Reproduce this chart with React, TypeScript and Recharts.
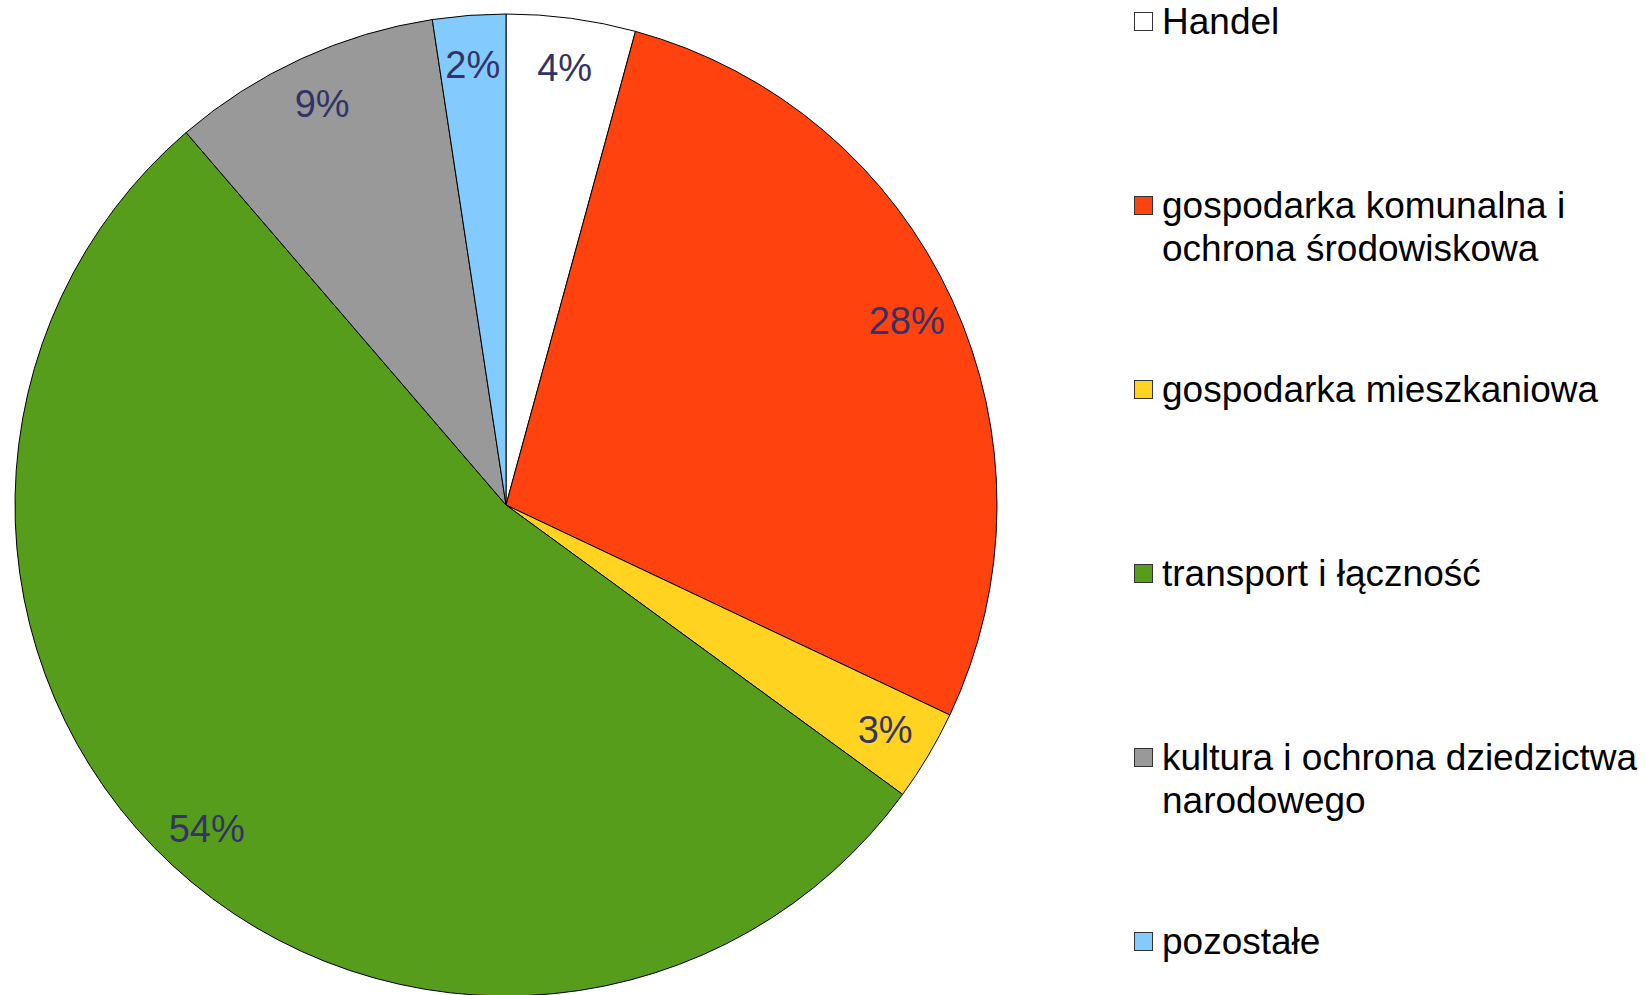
import { PieChart, Pie, Cell, Legend } from "recharts";

const categories = [
  "Handel",
  "gospodarka komunalna i ochrona środowiskowa",
  "gospodarka mieszkaniowa",
  "transport i łączność",
  "kultura i ochrona dziedzictwa narodowego",
  "pozostałe",
];
const shares = [4.25, 27.8, 3.0, 53.7, 8.9, 2.4];
const colors = ["#ffffff", "#ff420e", "#ffd320", "#579d1c", "#999999", "#83caff"];

const data = categories.map((name, i) => ({ name, value: shares[i] }));

const FONT = "'Liberation Sans', Arial, sans-serif";
const RADIAN = Math.PI / 180;

// ─── Percent labels inside slices ─────────────────────────────────────────

function renderLabel(props: any) {
  const { cx, cy, midAngle, outerRadius, percent } = props;
  const r = outerRadius - 50;
  const x = cx + r * Math.cos(-midAngle * RADIAN);
  const y = cy + r * Math.sin(-midAngle * RADIAN);
  return (
    <text x={x} y={y} fill="#333366" fontSize={38} fontFamily={FONT} textAnchor="middle" dominantBaseline="central">
      {`${Math.round(percent * 100)}%`}
    </text>
  );
}

// ─── Legend on the right ──────────────────────────────────────────────────

function renderLegend() {
  return (
    <div style={{ fontFamily: FONT, fontSize: 37, lineHeight: "43px", color: "#000" }}>
      {categories.map((name, i) => (
        <div key={name} style={{ height: 184, display: "flex", alignItems: "flex-start" }}>
          <div
            style={{
              width: 17,
              height: 17,
              marginTop: 12,
              marginRight: 9,
              background: colors[i],
              border: "1px solid #333",
              flexShrink: 0,
            }}
          />
          <div style={{ width: 486 }}>{name}</div>
        </div>
      ))}
    </div>
  );
}

export default function App() {
  return (
    <div style={{ position: "absolute", left: 0, top: 0, width: 1646, height: 995, overflow: "hidden", background: "#fff" }}>
      <PieChart width={1646} height={995} margin={{ top: 0, right: 0, bottom: 0, left: 0 }}>
        <Pie
          data={data}
          dataKey="value"
          nameKey="name"
          cx={506}
          cy={505}
          outerRadius={491}
          startAngle={90}
          endAngle={-270}
          stroke="#000"
          strokeWidth={1}
          label={renderLabel}
          labelLine={false}
          isAnimationActive={false}
        >
          {data.map((d, i) => (
            <Cell key={d.name} fill={colors[i]} />
          ))}
        </Pie>
        <Legend content={renderLegend} wrapperStyle={{ left: 1134, top: 0, width: 512 }} />
      </PieChart>
    </div>
  );
}
